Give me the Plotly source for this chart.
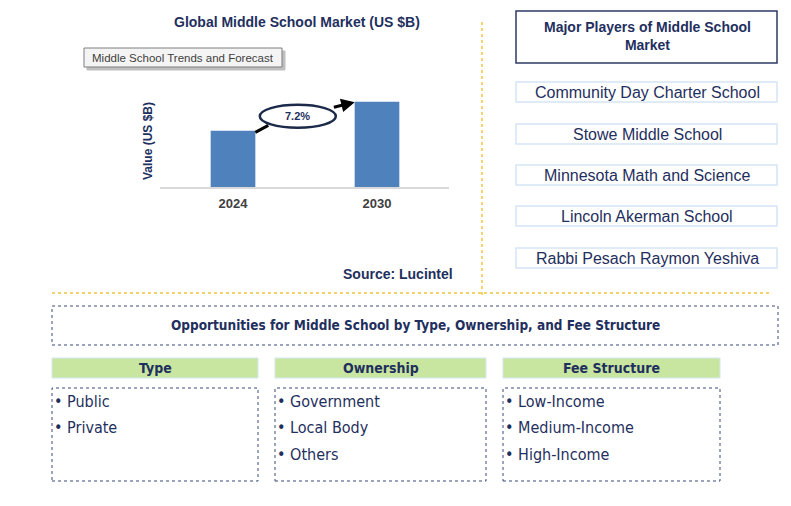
import plotly.graph_objects as go

# chart data
years = ["2024", "2030"]
market_values = [5.6, 8.5]
cagr_label = "7.2%"

players = [
    "Community Day Charter School",
    "Stowe Middle School",
    "Minnesota Math and Science",
    "Lincoln Akerman School",
    "Rabbi Pesach Raymon Yeshiva",
]

segment_titles = ["Type", "Ownership", "Fee Structure"]
segment_items = [
    ["Public", "Private"],
    ["Government", "Local Body", "Others"],
    ["Low-Income", "Medium-Income", "High-Income"],
]

W, H = 791, 506
NAVY = "#1F2F5E"
BAR = "#4F81BD"
GOLD = "#F5C542"
FONT = "Liberation Sans, Arial, sans-serif"
NARROW = "Liberation Sans Narrow, Arial Narrow, DejaVu Sans Condensed, sans-serif"


def px(x):
    return x / W


def py(y):
    return 1 - y / H


def box(fig, x0, y0, x1, y1, line_color, fill="rgba(0,0,0,0)", dash="solid", lw=1):
    fig.add_shape(type="rect", xref="paper", yref="paper",
                  x0=px(x0), x1=px(x1), y0=py(y1), y1=py(y0),
                  line=dict(color=line_color, width=lw, dash=dash), fillcolor=fill, layer="below")


def text(fig, x, y, s, size, color=NAVY, family=FONT, xanchor="center", bold=False, angle=0):
    fig.add_annotation(xref="paper", yref="paper", x=px(x), y=py(y), text=f"<b>{s}</b>" if bold else s,
                       showarrow=False, xanchor=xanchor, yanchor="middle", textangle=angle,
                       font=dict(family=family, size=size, color=color))


fig = go.Figure()
fig.add_trace(go.Bar(x=years, y=market_values, width=0.31, marker=dict(color=BAR, line=dict(width=0)),
                     hoverinfo="skip"))

y_top = market_values[1] * 97 / 85.3
fig.update_layout(
    width=W, height=H, margin=dict(l=0, r=0, t=0, b=0),
    paper_bgcolor="white", plot_bgcolor="white", showlegend=False,
    xaxis=dict(domain=[px(160), px(449)], range=[-0.507, 1.5], type="category",
               showline=True, linecolor="#D9D9D9", linewidth=1.5, showgrid=False, ticks="",
               tickfont=dict(family=FONT, size=13, color="#404040"), ticklabelstandoff=4),
    yaxis=dict(domain=[py(187), py(90)], range=[0, y_top], visible=False),
)
fig.update_xaxes(ticktext=[f"<b>{y}</b>" for y in years], tickvals=years)

# growth ellipse + arrows (in data coordinates of the bars)
v0, v1 = market_values
cy = (v0 + v1) / 2
ry = 11.5 * y_top / 97
fig.add_shape(type="circle", xref="x", yref="y", x0=0.45 - 0.264, x1=0.45 + 0.264,
              y0=cy - ry, y1=cy + ry, line=dict(color="#1B2A4A", width=2.5), fillcolor="white")
fig.add_shape(type="line", xref="x", yref="y", x0=0.155, y0=v0 - 0.15, x1=0.245, y1=cy - ry * 0.8,
              line=dict(color="black", width=3))
fig.add_annotation(xref="x", yref="y", axref="x", ayref="y", x=0.845, y=v1 - 0.05,
                   ax=0.69, ay=cy + ry * 0.75, showarrow=True, arrowhead=2, arrowsize=0.9,
                   arrowwidth=3, arrowcolor="black", text="")
fig.add_annotation(xref="x", yref="y", x=0.45, y=cy, text=f"<b>{cagr_label}</b>", showarrow=False,
                   font=dict(family=FONT, size=11, color=NAVY))

# left panel texts
text(fig, 297, 22, "Global Middle School Market (US $B)", 14, bold=True)
text(fig, 148, 141, "Value (US $B)", 12, bold=True, angle=-90)
text(fig, 455, 274, "Source: Lucintel", 14, xanchor="right", bold=True)
box(fig, 87, 51, 285, 70, "#BFBFBF", fill="#BFBFBF")
box(fig, 84, 48, 282, 67, "#7F7F7F", fill="#F4F4F4")
text(fig, 183, 58, "Middle School Trends and Forecast", 11.5, color="#404040")

# separators
fig.add_shape(type="line", xref="paper", yref="paper", x0=px(482), x1=px(482), y0=py(22), y1=py(296),
              line=dict(color=GOLD, width=1.5, dash="dot"))
fig.add_shape(type="line", xref="paper", yref="paper", x0=px(52), x1=px(770), y0=py(293), y1=py(293),
              line=dict(color=GOLD, width=1.5, dash="dot"))

# major players
box(fig, 516, 11, 777, 63, "#2E3A66", fill="white", lw=1.5)
text(fig, 647, 36, "Major Players of Middle School<br>Market", 14, bold=True)
player_tops = [82, 124, 165, 206, 248]
for name, top in zip(players, player_tops):
    box(fig, 516, top, 777, top + 20, "#D5E6F5", lw=1.5)
    text(fig, 647, top + 10, name, 16, color=NAVY)

# opportunities
box(fig, 52, 306, 778, 345, "#3A4A78", dash="dot", lw=1)
text(fig, 415, 325, "Opportunities for Middle School by Type, Ownership, and Fee Structure", 13.5,
     family=NARROW, bold=True)
cols = [(52, 258), (275, 486), (503, 720)]
for (x0, x1), title, items in zip(cols, segment_titles, segment_items):
    box(fig, x0, 358, x1, 378, "#D5E8F0", fill="#C8E6A0")
    text(fig, (x0 + x1) / 2, 368, title, 14, family=NARROW, bold=True)
    box(fig, x0, 388, x1, 481, "#3A4A78", dash="dot", lw=1)
    for i, item in enumerate(items):
        text(fig, x0, 401 + i * 26.5, "• " + item, 16, family=NARROW, xanchor="left")

fig.write_html("out.html", config={"displayModeBar": False},
               post_script="document.body.style.margin='0';")
